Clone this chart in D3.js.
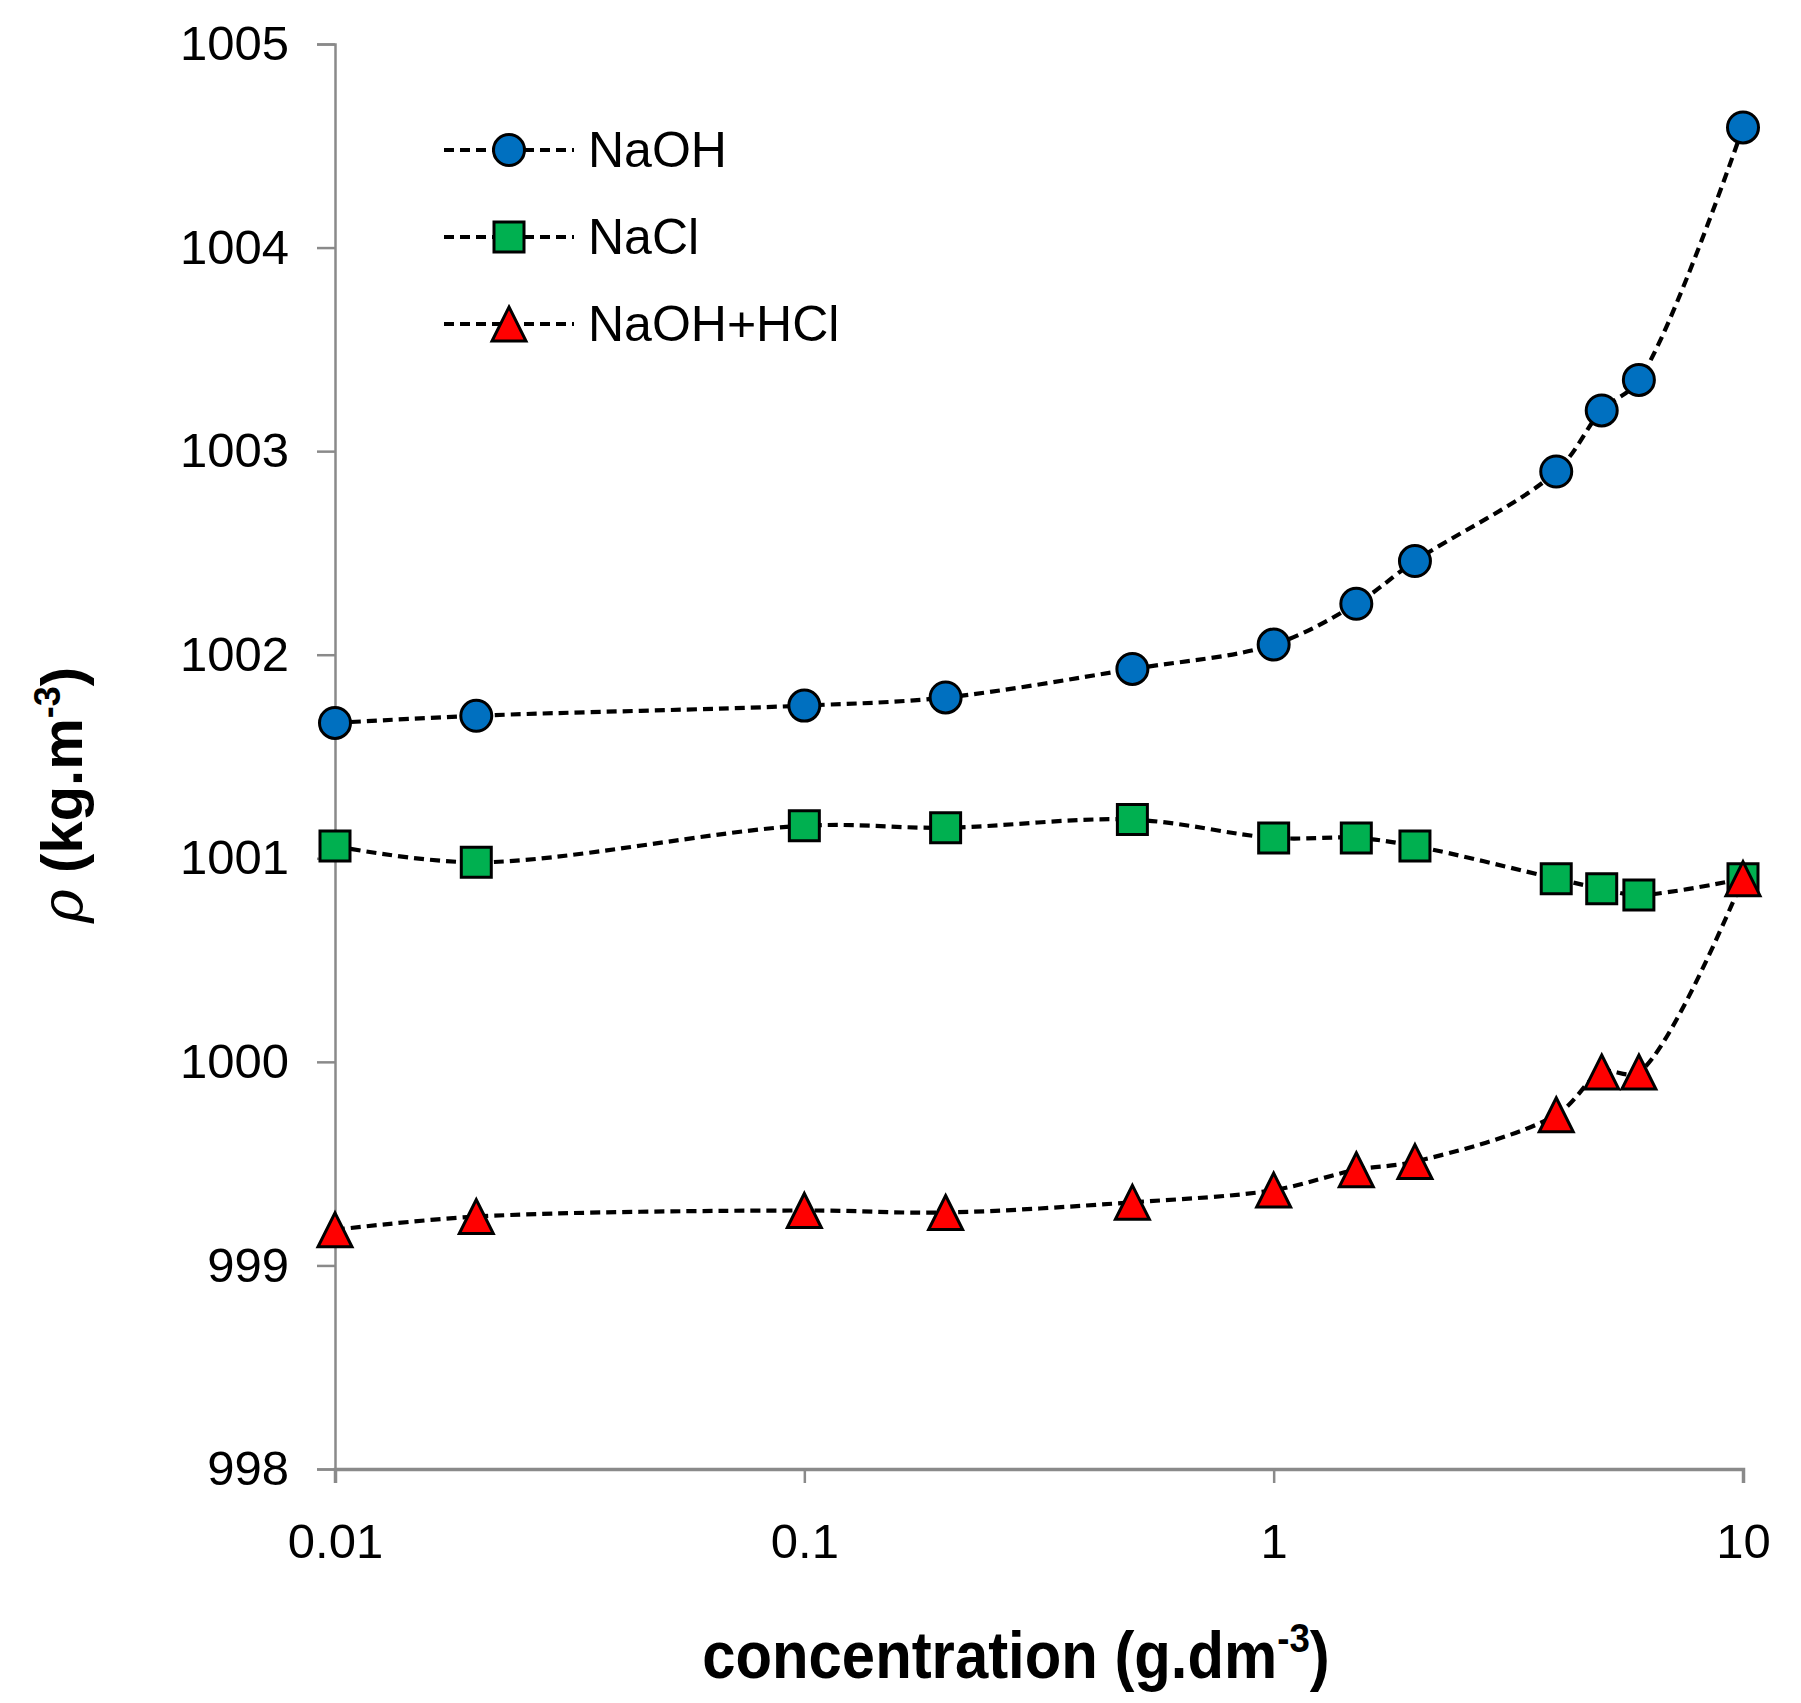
<!DOCTYPE html>
<html>
<head>
<meta charset="utf-8">
<script src="https://cdn.jsdelivr.net/npm/d3@7.9.0/dist/d3.min.js"></script>
<style>
  body { margin: 0; background: #fff; }
  text { font-family: 'Liberation Sans', Arial, sans-serif; }
</style>
</head>
<body>
<div id="chart"></div>
<script>
// concentration (g.dm-3)
const concentrations = [0.01, 0.02, 0.1, 0.2, 0.5, 1, 1.5, 2, 4, 5, 6, 10];

// density (kg.m-3)
const naoh = [1001.665, 1001.70, 1001.75, 1001.79, 1001.93, 1002.05, 1002.25, 1002.46, 1002.90, 1003.20, 1003.35, 1004.59];
const nacl = [1001.06, 1000.98, 1001.16, 1001.15, 1001.19, 1001.10, 1001.10, 1001.06, 1000.90, 1000.85, 1000.82, 1000.90];
const naohHcl = [999.175, 999.24, 999.27, 999.26, 999.31, 999.37, 999.47, 999.51, 999.74, 999.95, 999.95, 1000.90];

const seriesNames = ['NaOH', 'NaCl', 'NaOH+HCl'];
const seriesColors = ['#0070C0', '#00B050', '#FF0000'];
const seriesShapes = ['circle', 'square', 'triangle'];

const xTicks = [0.01, 0.1, 1, 10];
const xTickLabels = ['0.01', '0.1', '1', '10'];
const yTicks = [998, 999, 1000, 1001, 1002, 1003, 1004, 1005];

const width = 1801;
const height = 1703;
const margin = { top: 44, right: 58, bottom: 234, left: 335 };

const series = seriesNames.map((name, i) => ({
  name,
  color: seriesColors[i],
  shape: seriesShapes[i],
  values: concentrations.map((c, j) => ({ x: c, y: [naoh, nacl, naohHcl][i][j] })),
}));

const svg = d3
  .select('#chart')
  .append('svg')
  .attr('width', width)
  .attr('height', height)
  .attr('viewBox', `0 0 ${width} ${height}`);

svg.append('rect').attr('width', width).attr('height', height).attr('fill', '#fff');

const xScale = d3
  .scaleLog()
  .domain([0.01, 10])
  .range([margin.left, width - margin.right]);

const yScale = d3
  .scaleLinear()
  .domain([998, 1005])
  .range([height - margin.bottom, margin.top]);

// Y axis
const yAxis = svg
  .append('g')
  .attr('transform', `translate(${margin.left}, 0)`)
  .call(d3.axisLeft(yScale).tickValues(yTicks).tickFormat(d3.format('d')).tickSize(18).tickPadding(28));

// X axis
const xAxis = svg
  .append('g')
  .attr('transform', `translate(0, ${height - margin.bottom})`)
  .call(d3.axisBottom(xScale).tickValues(xTicks).tickFormat((d, i) => xTickLabels[i]).tickSize(14).tickPadding(40));

[yAxis, xAxis].forEach((ax) => {
  ax.select('.domain').attr('stroke', '#8a8a8a').attr('stroke-width', 2.5);
  ax.selectAll('.tick line').attr('stroke', '#8a8a8a').attr('stroke-width', 2.5);
  ax.selectAll('.tick text')
    .attr('fill', '#000')
    .style('font-size', '49px')
    .style('font-family', "'Liberation Sans', Arial, sans-serif");
});
xAxis.select('.domain').attr('stroke-width', 3.5);

// marker shapes, centred on the bounding box like Excel
function markerPath(shape) {
  if (shape === 'circle') return d3.symbol(d3.symbolCircle, Math.PI * 15.5 * 15.5)();
  if (shape === 'square') return 'M-15,-15H15V15H-15Z';
  return 'M0,-17L17,17H-17Z';
}

const line = d3
  .line()
  .x((d) => xScale(d.x))
  .y((d) => yScale(d.y))
  .curve(d3.curveCatmullRom.alpha(0.5));

series.forEach((s) => {
  const g = svg.append('g').attr('class', 'series');

  g.append('path')
    .datum(s.values)
    .attr('d', line)
    .attr('fill', 'none')
    .attr('stroke', '#000')
    .attr('stroke-width', 4.2)
    .attr('stroke-dasharray', '10,6');

  g.selectAll('path.marker')
    .data(s.values)
    .join('path')
    .attr('class', 'marker')
    .attr('d', markerPath(s.shape))
    .attr('transform', (d) => `translate(${xScale(d.x)}, ${yScale(d.y)})`)
    .attr('fill', s.color)
    .attr('stroke', '#000')
    .attr('stroke-width', 3);
});

// Legend
const legend = svg.append('g').attr('class', 'legend');
const legendRows = legend
  .selectAll('g')
  .data(series)
  .join('g')
  .attr('transform', (d, i) => `translate(0, ${150 + i * 87})`);

legendRows
  .append('line')
  .attr('x1', 444)
  .attr('x2', 574)
  .attr('stroke', '#000')
  .attr('stroke-width', 4.2)
  .attr('stroke-dasharray', '10,6');

legendRows
  .append('path')
  .attr('d', (d) => markerPath(d.shape))
  .attr('transform', 'translate(509, 0)')
  .attr('fill', (d) => d.color)
  .attr('stroke', '#000')
  .attr('stroke-width', 3);

legendRows
  .append('text')
  .attr('x', 588)
  .attr('y', 17)
  .style('font-size', '50px')
  .text((d) => d.name);

// Axis titles
const xTitle = svg
  .append('text')
  .attr('transform', 'translate(1016, 1678) scale(0.965, 1.08)')
  .attr('text-anchor', 'middle')
  .style('font-size', '62px')
  .style('font-weight', 'bold');
xTitle.append('tspan').text('concentration (g.dm');
xTitle.append('tspan').attr('dy', -24).style('font-size', '38px').text('-3');
xTitle.append('tspan').attr('dy', 24).text(')');

const yTitle = svg
  .append('text')
  .attr('transform', 'translate(82, 795) rotate(-90)')
  .attr('text-anchor', 'middle')
  .style('font-size', '58px')
  .style('font-weight', 'bold');
yTitle.append('tspan').style('font-style', 'italic').style('font-family', "'DejaVu Serif', serif").style('font-weight', 'normal').text('ρ');
yTitle.append('tspan').text(' (kg.m');
yTitle.append('tspan').attr('dy', -22).style('font-size', '36px').text('-3');
yTitle.append('tspan').attr('dy', 22).text(')');
</script>
</body>
</html>
